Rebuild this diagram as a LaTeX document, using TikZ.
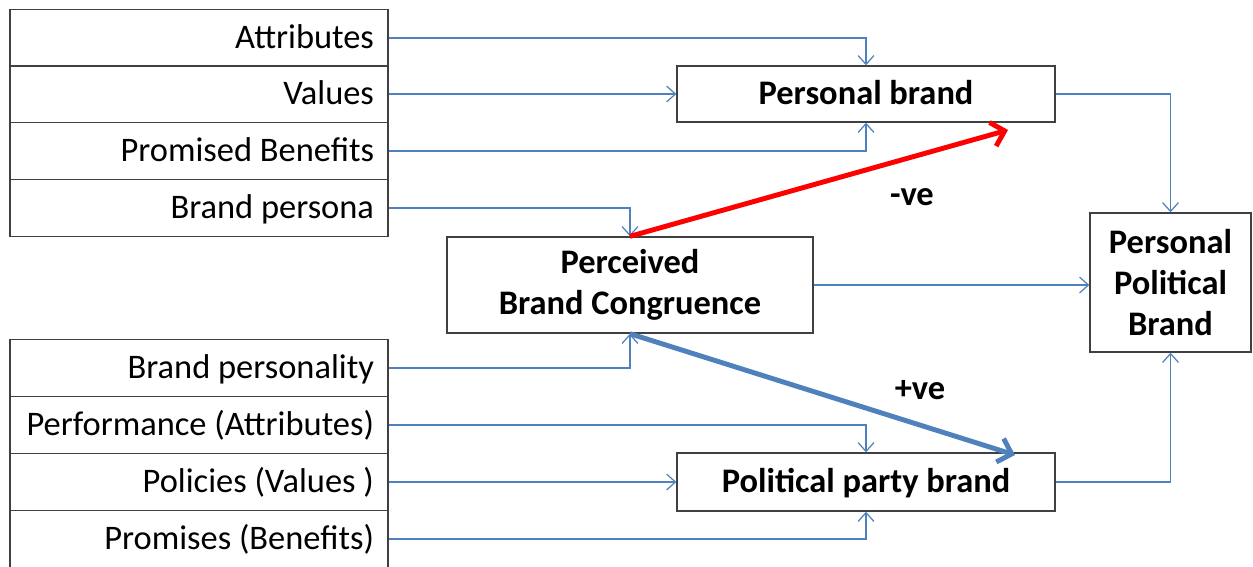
\documentclass[tikz,border=0pt]{standalone}
\usepackage{fontspec}
\setmainfont{Carlito}
\usetikzlibrary{arrows.meta}
\definecolor{linkblue}{RGB}{79,129,189}
\tikzset{
	rowbox/.style = {draw = black!75, line width = 0.8pt, minimum width = 7.56cm, minimum height = 1.13cm,
		text width = 7.0cm, align = flush right, text height = 12.5pt, text depth = 0pt,
		font = \fontsize{19.6}{23.5}\selectfont},
	brandbox/.style = {draw = black!75, line width = 0.8pt, align = center,
		font = \bfseries\fontsize{19.6}{23.5}\selectfont},
	link/.style = {-{Straight Barb[length = 5pt, width = 9pt]}, color = linkblue, line width = 0.7pt},
	effect/.style = {-{Straight Barb[length = 7pt, width = 14pt]}, line width = 2.8pt},
	sign/.style = {font = \bfseries\fontsize{19.6}{23.5}\selectfont}
}

\begin{document}
\begin{tikzpicture}[x = 0.02cm, y = -0.02cm]
	\useasboundingbox (0,0) rectangle (1253,566);
	\clip (0,0) rectangle (1253,566);
	% left columns
	\foreach \name/\y/\txt in {attr/38/Attributes, val/94/Values, prom/151/Promised Benefits, persona/208/Brand persona}
	\node [rowbox] (\name) at (199,\y) {\txt};
	\foreach \name/\y/\txt in {bpers/368/Brand personality, perf/425/Performance (Attributes), pol/482/Policies (Values ), promi/539/Promises (Benefits)}
	\node [rowbox] (\name) at (199,\y) {\txt};
	% brands
	\node [brandbox, minimum width = 7.56cm, minimum height = 1.12cm, text height = 12.5pt, text depth = 0pt] (pers) at (866,94) {Personal brand};
	\node [brandbox, minimum width = 7.56cm, minimum height = 1.16cm, text height = 12.5pt, text depth = 0pt] (party) at (866,482) {Political party brand};
	\node [brandbox, minimum width = 7.32cm, minimum height = 1.92cm] (pbc) at (630,285) {Perceived\\Brand Congruence};
	\node [brandbox, minimum width = 3.22cm, minimum height = 2.78cm] (ppb) at (1170.5,282.5) {Personal\\Political\\Brand};
	% connectors
	\draw [link] (attr.east) -| (pers.north);
	\draw [link] (val.east) -- (pers.west);
	\draw [link] (prom.east) -| (pers.south);
	\draw [link] (persona.east) -| (pbc.north);
	\draw [link] (bpers.east) -| (pbc.south);
	\draw [link] (perf.east) -| (party.north);
	\draw [link] (pol.east) -- (party.west);
	\draw [link] (promi.east) -| (party.south);
	\draw [link] (pbc.east) -- (pbc.east -| ppb.west);
	\draw [link] (pers.east) -| (ppb.north);
	\draw [link] (party.east) -| (ppb.south);
	% congruence effects
	\coordinate (negend) at (1008,130);
	\coordinate (posend) at (1015,455);
	\draw [effect, color = red] (pbc.north) -- (negend);
	\draw [effect, color = linkblue] (pbc.south) -- (posend);
	\node [sign] (neg) at (912,197) {-ve};
	\node [sign] (pos) at (920,390) {+ve};
\end{tikzpicture}
\end{document}
